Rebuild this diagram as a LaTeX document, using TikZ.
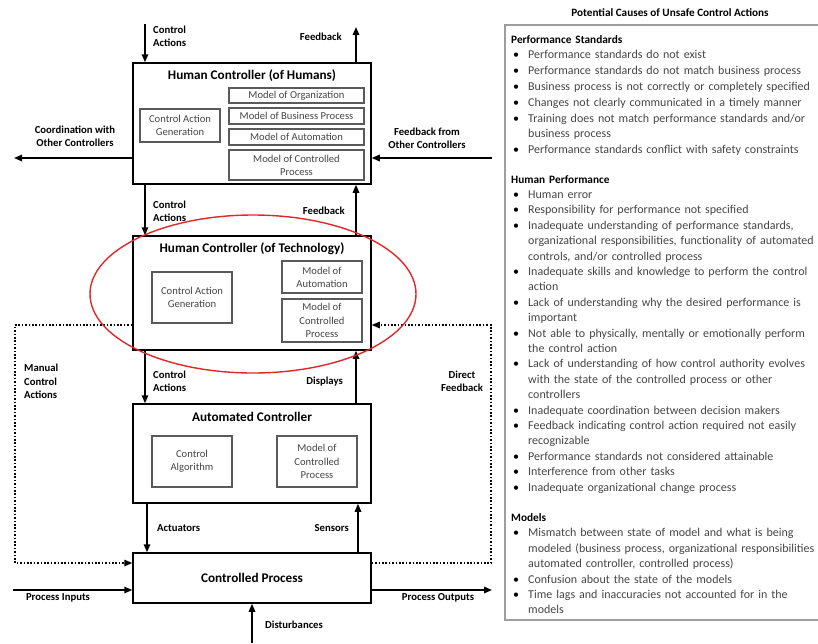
\documentclass[tikz,border=0pt]{standalone}
\usepackage{fontspec}
\setmainfont{Carlito}
\usetikzlibrary{arrows.meta}
\definecolor{inktext}{HTML}{454545}
\definecolor{boxgray}{HTML}{5A5A5A}
\definecolor{panelgray}{HTML}{9E9E9E}
\definecolor{ovalred}{HTML}{E02828}

% list helpers for the causes panel
\newcommand{\causehead}[1]{{\color{black}\fontsize{11.3}{15.4}\selectfont\bfseries #1\par}}
\newcommand{\causeitem}[1]{\hangindent=17pt\hangafter=1\noindent\makebox[17pt][l]{\hspace{2pt}{\color{black}\textbullet}}#1\par}

\begin{document}
\begin{tikzpicture}[x=1pt,y=-1pt,
  mainbox/.style={draw=black, line width=1.5pt, minimum width=238pt, inner sep=0pt},
  subbox/.style={draw=boxgray, line width=1.1pt, inner sep=0pt, align=center,
    font=\fontsize{10.6}{13.2}\selectfont, text=inktext},
  boxtitle/.style={font=\fontsize{13.2}{16}\selectfont\bfseries, inner sep=0pt},
  lbl/.style={font=\fontsize{10.7}{13.3}\selectfont\bfseries, inner sep=0pt},
  flow/.style={line width=1.5pt, -{Triangle[length=8pt,width=6.5pt]}},
  dotflow/.style={line width=1.4pt, dash pattern=on 1.6pt off 1.8pt,
    -{Triangle[length=8pt,width=6.5pt]}}
]
\useasboundingbox (0,0) rectangle (818,643);

% ---------- controller hierarchy ----------
\node[mainbox, minimum height=121pt] (hum) at (252,123.5) {};
\node[boxtitle] (humT) at (252,76) {Human Controller (of Humans)};
\node[subbox, minimum width=80pt, minimum height=33pt] (humCAG) at (180,125.5) {Control Action\\Generation};
\node[subbox, minimum width=135pt, minimum height=15pt] (humOrg) at (296.5,95.5) {Model of Organization};
\node[subbox, minimum width=135pt, minimum height=16pt] (humBus) at (296.5,116) {Model of Business Process};
\node[subbox, minimum width=135pt, minimum height=16pt] (humAut) at (296.5,137) {Model of Automation};
\node[subbox, minimum width=135pt, minimum height=30pt] (humCP) at (296.5,165) {Model of Controlled\\Process};

\node[mainbox, minimum height=114pt] (tech) at (252,293) {};
\node[boxtitle] (techT) at (252,249) {Human Controller (of Technology)};
\node[subbox, minimum width=80pt, minimum height=51pt] (techCAG) at (192,297.5) {Control Action\\Generation};
\node[subbox, minimum width=80pt, minimum height=32pt] (techAut) at (322,277) {Model of\\Automation};
\node[subbox, minimum width=80pt, minimum height=43pt] (techCP) at (322,320.5) {Model of\\Controlled\\Process};

\node[mainbox, minimum height=99pt] (auto) at (252,453.5) {};
\node[boxtitle] (autoT) at (252,417) {Automated Controller};
\node[subbox, minimum width=80pt, minimum height=51pt] (autoAlg) at (192,461.5) {Control\\Algorithm};
\node[subbox, minimum width=80pt, minimum height=51pt] (autoCP) at (317,461.5) {Model of\\Controlled\\Process};

\node[mainbox, minimum height=50pt] (cp) at (252,578) {};
\node[boxtitle] (cpT) at (252,578) {Controlled Process};

% ---------- connector end points and lanes ----------
\coordinate (xL) at (145,0);
\coordinate (xR) at (356,0);
\coordinate (xL2) at (147,0);
\coordinate (xR2) at (358,0);
\coordinate (caTop) at (145,24);
\coordinate (fbTop) at (356,27);
\coordinate (coordEnd) at (14,158);
\coordinate (fbOther) at (492,158);
\coordinate (mTop) at (15,325);
\coordinate (mBot) at (15,563);
\coordinate (dTop) at (491,325);
\coordinate (dBot) at (491,563);
\coordinate (inStart) at (13,590);
\coordinate (outEnd) at (492,590);
\coordinate (distStart) at (252,643);

\draw[flow] (caTop) -- (caTop |- hum.north);
\draw[flow] (hum.north -| fbTop) -- (fbTop);
\draw[flow] (hum.west |- coordEnd) -- (coordEnd);
\draw[flow] (fbOther) -- (hum.east |- fbOther);
\draw[flow] (hum.south -| xL) -- (tech.north -| xL);
\draw[flow] (tech.north -| xR) -- (hum.south -| xR);
\draw[flow] (tech.south -| xL) -- (auto.north -| xL);
\draw[flow] (auto.north -| xR) -- (tech.south -| xR);
\draw[flow] (auto.south -| xL2) -- (cp.north -| xL2);
\draw[flow] (cp.north -| xR2) -- (auto.south -| xR2);
\draw[dotflow] (tech.west |- mTop) -- (mTop) -- (mBot) -- (cp.west |- mBot);
\draw[dotflow] (cp.east |- dBot) -- (dBot) -- (dTop) -- (tech.east |- dTop);
\draw[flow] (inStart) -- (cp.west |- inStart);
\draw[flow] (cp.east |- outEnd) -- (outEnd);
\draw[flow] (distStart) -- (cp.south -| distStart);

% ---------- connector labels ----------
\node[lbl, anchor=west, align=left] (lCA1) at (153,36.5) {Control\\Actions};
\node[lbl, anchor=east] (lFB1) at (342,37) {Feedback};
\node[lbl, align=center] (lCoord) at (75,136.5) {Coordination with\\Other Controllers};
\node[lbl, align=center] (lFBO) at (427,138.5) {Feedback from\\Other Controllers};
\node[lbl, anchor=west, align=left] (lCA2) at (153,211) {Control\\Actions};
\node[lbl, anchor=east] (lFB2) at (345,211) {Feedback};
\node[lbl, anchor=west, align=left] (lMan) at (24,381.5) {Manual\\Control\\Actions};
\node[lbl, align=center] (lDir) at (462,381) {Direct\\Feedback};
\node[lbl, anchor=west, align=left] (lCA3) at (153,381) {Control\\Actions};
\node[lbl, anchor=east] (lDisp) at (343,382) {Displays};
\node[lbl, anchor=west] (lAct) at (157,528) {Actuators};
\node[lbl, anchor=east] (lSens) at (349,528) {Sensors};
\node[lbl] (lIn) at (58,598) {Process Inputs};
\node[lbl] (lOut) at (438,598) {Process Outputs};
\node[lbl, anchor=west] (lDist) at (265,625) {Disturbances};

% ---------- causes panel ----------
\node[lbl, font=\fontsize{11.2}{13}\selectfont\bfseries] (panelT) at (670,13) {Potential Causes of Unsafe Control Actions};
\draw[panelgray, line width=1.2pt] (505,25) rectangle (830,620);
\node[anchor=north west, inner sep=0pt, text width=340pt, text=inktext,
      font=\fontsize{12}{15.4}\selectfont] (causes) at (511,35) {%
\baselineskip=15.8pt
\causehead{Performance Standards}
\causeitem{Performance standards do not exist}
\causeitem{Performance standards do not match business process}
\causeitem{Business process is not correctly or completely specified}
\causeitem{Changes not clearly communicated in a timely manner}
\causeitem{Training does not match performance standards and/or\newline business process}
\causeitem{Performance standards conflict with safety constraints}
\vspace{14pt}
\baselineskip=15.4pt
\causehead{Human Performance}
\causeitem{Human error}
\causeitem{Responsibility for performance not specified}
\causeitem{Inadequate understanding of performance standards,\newline organizational responsibilities, functionality of automated\newline controls, and/or controlled process}
\causeitem{Inadequate skills and knowledge to perform the control\newline action}
\causeitem{Lack of understanding why the desired performance is\newline important}
\causeitem{Not able to physically, mentally or emotionally perform\newline the control action}
\causeitem{Lack of understanding of how control authority evolves\newline with the state of the controlled process or other\newline controllers}
\causeitem{Inadequate coordination between decision makers}
\causeitem{Feedback indicating control action required not easily\newline recognizable}
\causeitem{Performance standards not considered attainable}
\causeitem{Interference from other tasks}
\causeitem{Inadequate organizational change process}
\vspace{15pt}
\causehead{Models}
\causeitem{Mismatch between state of model and what is being\newline modeled (business process, organizational responsibilities\newline automated controller, controlled process)}
\causeitem{Confusion about the state of the models}
\causeitem{Time lags and inaccuracies not accounted for in the\newline models}
};

% highlight around the technology controller
\draw[ovalred, line width=1.4pt] (253,294) ellipse [x radius=163, y radius=79];
\end{tikzpicture}
\end{document}
